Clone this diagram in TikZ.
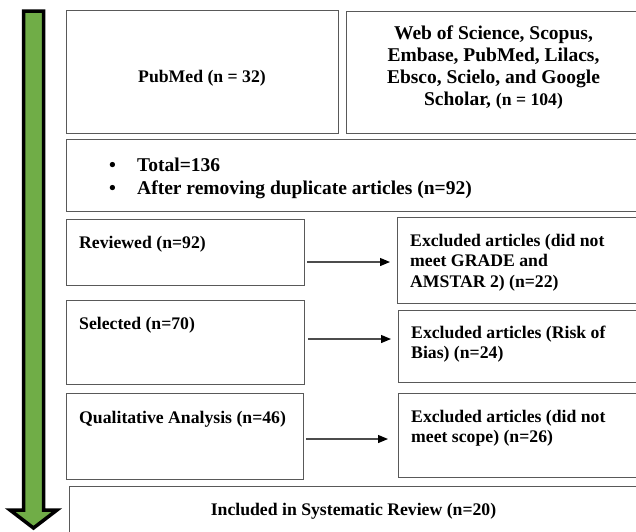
\documentclass[tikz,border=0pt]{standalone}
\usepackage{fontspec}
\setmainfont{Liberation Serif}
\usetikzlibrary{arrows.meta}
\definecolor{arrowgreen}{HTML}{70AD47}
\tikzset{
  box/.style={draw=black!65, line width=1.3pt, anchor=north west, inner sep=0pt},
  txt/.style={font=\bfseries\fontsize{17.7}{20.5}\selectfont, inner sep=0pt, align=left},
  flow/.style={draw=black!70, line width=1.2pt, -{Triangle[length=10pt,width=8pt,color=black]}}
}
\begin{document}
\begin{tikzpicture}[x=1pt,y=-1pt]
      \useasboundingbox (0,0) rectangle (636,531);
      \clip (0,0) rectangle (636,531);
      \filldraw[fill=arrowgreen, draw=black, line width=3.5pt, line join=miter]
        (23.5,11) -- (43.5,11) -- (43.5,510) -- (57,510) -- (33.5,528) -- (10,510) -- (23.5,510) -- cycle;
      \node[box, minimum width=272pt, minimum height=123pt] (pubmed) at (66,10) {};
      \node[box, minimum width=296pt, minimum height=122pt] (wos) at (346,11) {};
      \node[box, minimum width=575pt, minimum height=72pt] (total) at (66,139) {};
      \node[box, minimum width=238pt, minimum height=66pt] (rev) at (66,219) {};
      \node[box, minimum width=244pt, minimum height=86pt] (exc1) at (397,217) {};
      \node[box, minimum width=238pt, minimum height=84pt] (sel) at (66,300) {};
      \node[box, minimum width=243pt, minimum height=72pt] (exc2) at (398,310) {};
      \node[box, minimum width=237pt, minimum height=86pt] (qual) at (66,393) {};
      \node[box, minimum width=243pt, minimum height=84pt] (exc3) at (398,393) {};
      \node[box, minimum width=570pt, minimum height=60pt] (incl) at (69,486) {};
      \node[txt, anchor=base] (pubmedt) at (202,82) {PubMed (n = 32)};
      \node[txt, anchor=center, align=center, font=\bfseries\fontsize{19.5}{22}\selectfont] (wost) at (493.5,68)
        {Web of Science, Scopus,\\Embase, PubMed, Lilacs,\\Ebsco, Scielo, and Google\\Scholar, {\fontsize{17.7}{22}\selectfont(n = 104)}};
      \node[txt, anchor=base west, font=\bfseries\fontsize{19.5}{23}\selectfont] (totalt) at (109,194)
        {\makebox[28pt][l]{\textbullet}Total=136\\\makebox[28pt][l]{\textbullet}After removing duplicate articles (n=92)};
      \node[txt, anchor=base west] (revt) at (79,248) {Reviewed (n=92)};
      \node[txt, anchor=base west] (selt) at (79,329) {Selected (n=70)};
      \node[txt, anchor=base west] (qualt) at (79,423) {Qualitative Analysis (n=46)};
      \node[txt, anchor=base west] (exc1t) at (410,287) {Excluded articles (did not\\meet GRADE and\\AMSTAR 2) (n=22)};
      \node[txt, anchor=base west] (exc2t) at (411,358.5) {Excluded articles (Risk of\\Bias) (n=24)};
      \node[txt, anchor=base west] (exc3t) at (411,442.5) {Excluded articles (did not\\meet scope) (n=26)};
      \node[txt, anchor=base] (inclt) at (353.5,515) {Included in Systematic Review (n=20)};
      \coordinate (a1) at (307,262);
      \coordinate (b1) at (390,262);
      \coordinate (a2) at (308,339);
      \coordinate (b2) at (391,339);
      \coordinate (a3) at (306,439);
      \coordinate (b3) at (388,439);
      \draw[flow] (a1) -- (b1);
      \draw[flow] (a2) -- (b2);
      \draw[flow] (a3) -- (b3);
    \end{tikzpicture}
\end{document}
